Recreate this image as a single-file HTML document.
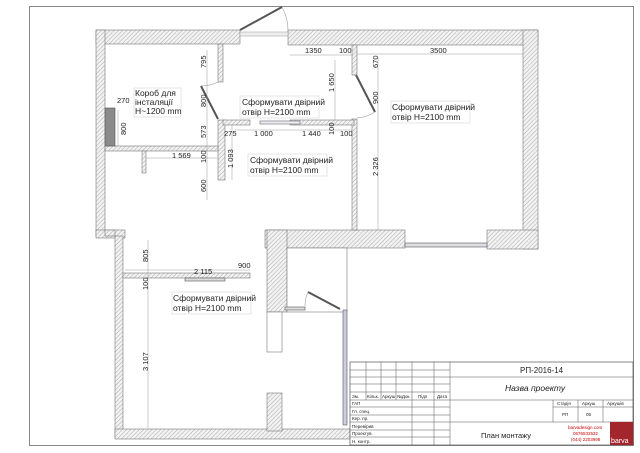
<!DOCTYPE html>
<html><head><meta charset="utf-8"><style>
html,body{margin:0;padding:0;background:#fff}
svg{display:block}
text{font-family:"Liberation Sans",sans-serif;fill:#222}
</style></head><body>
<svg width="640" height="453" viewBox="0 0 640 453" xmlns="http://www.w3.org/2000/svg">
<defs>
<pattern id="h" width="3" height="3" patternUnits="userSpaceOnUse" patternTransform="rotate(45)">
<rect width="3" height="3" fill="#f2f2f2"/><line x1="0" y1="0" x2="0" y2="3" stroke="#9a9a9a" stroke-width="0.8"/>
</pattern>
</defs>
<!-- page border -->
<rect x="29.5" y="6.5" width="604" height="439" fill="none" stroke="#888" stroke-width="1"/>
<g fill="url(#h)" stroke="#777" stroke-width="0.6">
<!-- top wall -->
<rect x="96" y="30" width="144" height="14"/>
<rect x="288" y="30" width="250" height="15"/>
<!-- left wall upper -->
<rect x="96" y="30" width="9" height="206"/>
<rect x="96" y="230" width="29" height="8"/>
<!-- left wall lower -->
<rect x="115" y="236" width="8" height="202"/>
<!-- bottom wall -->
<rect x="115" y="429" width="235" height="10"/>
<!-- right wall -->
<rect x="523" y="30" width="15" height="219"/>
<!-- bottom of right room -->
<rect x="265" y="230" width="140" height="18"/>
<rect x="487" y="230" width="51" height="19"/>
<!-- middle block -->
<rect x="267" y="230" width="20" height="82"/>
<rect x="267" y="393" width="15" height="38"/>
<!-- partition left/middle -->
<rect x="218" y="44" width="5" height="38"/>
<rect x="218" y="120" width="7" height="60"/>
<!-- partition middle/right -->
<rect x="352" y="45" width="5" height="30"/>
<rect x="352" y="119" width="5" height="111"/>
<!-- horizontal mid -->
<rect x="223" y="120" width="27" height="5"/>
<rect x="290" y="120" width="64" height="5"/>
<!-- left room horizontals -->
<rect x="105" y="146" width="113" height="5"/>
<rect x="142" y="151" width="4" height="22"/>
<rect x="123" y="273" width="127" height="5"/>
<rect x="105" y="230" width="10" height="6"/>
</g>
<!-- inner fill of middle block -->
<rect x="287" y="248" width="60" height="64" fill="#fff" stroke="#777" stroke-width="0.6"/>
<rect x="267" y="312" width="15" height="40" fill="#fff" stroke="#777" stroke-width="0.6"/>
<!-- box gray -->
<rect x="105" y="108" width="10" height="38" fill="#8a8a8a" stroke="#555" stroke-width="0.6"/>
<!-- windows -->
<rect x="405" y="243" width="82" height="4" fill="#ddd" stroke="#556" stroke-width="0.6"/>
<rect x="343" y="310" width="4" height="115" fill="#ccd" stroke="#556" stroke-width="0.6"/>
<rect x="240" y="32" width="48" height="4" fill="#eee" stroke="#999" stroke-width="0.5"/>
<rect x="260" y="121" width="40" height="3" fill="#eee" stroke="#667" stroke-width="0.6"/>
<rect x="185" y="278" width="40" height="3" fill="#ddd" stroke="#555" stroke-width="0.6"/>
<rect x="285" y="307" width="20" height="3" fill="#ddd" stroke="#555" stroke-width="0.6"/>
<!-- doors -->
<g stroke="#555" stroke-width="2">
<line x1="240" y1="30" x2="282" y2="7"/>
<line x1="201" y1="86" x2="218" y2="119"/>
<line x1="356" y1="75" x2="375" y2="112"/>
<line x1="308" y1="292" x2="340" y2="309"/>
</g>
<g stroke="#888" stroke-width="0.5" fill="none">
<path d="M282 7 A48 48 0 0 1 288 32"/>
<path d="M201 86 A38 38 0 0 0 218 82"/>
<path d="M375 112 A38 38 0 0 1 357 118"/>
<path d="M308 292 A32 32 0 0 0 305 306"/>
</g>
<!-- dimension lines -->
<g stroke="#999" stroke-width="0.5" fill="none">
<line x1="290" y1="55" x2="352" y2="55"/>
<line x1="357" y1="54" x2="523" y2="54"/>
<line x1="207" y1="50" x2="207" y2="200"/>
<line x1="235" y1="130" x2="352" y2="130"/>
<line x1="232" y1="125" x2="232" y2="180"/>
<line x1="335" y1="60" x2="335" y2="120"/>
<line x1="378" y1="57" x2="378" y2="230"/>
<line x1="118" y1="110" x2="118" y2="146"/>
<line x1="146" y1="158" x2="218" y2="158"/>
<line x1="125" y1="270" x2="250" y2="270"/>
<line x1="148" y1="240" x2="148" y2="428"/>
</g>
<g font-size="7.5">
<text x="305" y="53">1350</text><text x="339" y="53">100</text>
<text x="430" y="53">3500</text>
<text x="254" y="136">1 000</text><text x="302" y="136">1 440</text><text x="340" y="136">100</text>
<text x="224" y="136">275</text>
<text x="172" y="158">1 569</text>
<text x="194" y="274">2 115</text><text x="238" y="268">900</text>
<text x="117" y="103">270</text>
</g>
<g font-size="7.5">
<text transform="translate(206,68) rotate(-90)">795</text>
<text transform="translate(206,107) rotate(-90)">800</text>
<text transform="translate(206,138) rotate(-90)">573</text>
<text transform="translate(206,163) rotate(-90)">100</text>
<text transform="translate(206,192) rotate(-90)">600</text>
<text transform="translate(233,168) rotate(-90)">1 093</text>
<text transform="translate(334,92) rotate(-90)">1 650</text>
<text transform="translate(334,135) rotate(-90)">100</text>
<text transform="translate(378,68) rotate(-90)">670</text>
<text transform="translate(378,104) rotate(-90)">900</text>
<text transform="translate(378,176) rotate(-90)">2 326</text>
<text transform="translate(126,135) rotate(-90)">800</text>
<text transform="translate(148,262) rotate(-90)">805</text>
<text transform="translate(148,290) rotate(-90)">100</text>
<text transform="translate(148,371) rotate(-90)">3 107</text>
</g>
<!-- notes -->
<g font-size="8.5">
<rect x="134" y="88" width="47" height="29" fill="#fff" stroke="#ccc" stroke-width="0.5"/>
<text x="135" y="96">Короб для</text><text x="135" y="105">інсталяції</text><text x="135" y="114">Н~1200 mm</text>
<rect x="240" y="96" width="79" height="22" fill="#fff" stroke="#ccc" stroke-width="0.5"/>
<text x="242" y="105">Сформувати двірний</text><text x="242" y="115">отвір Н=2100 mm</text>
<rect x="248" y="154" width="79" height="22" fill="#fff" stroke="#ccc" stroke-width="0.5"/>
<text x="250" y="163">Сформувати двірний</text><text x="250" y="173">отвір Н=2100 mm</text>
<rect x="391" y="101" width="79" height="22" fill="#fff" stroke="#ccc" stroke-width="0.5"/>
<text x="392" y="110">Сформувати двірний</text><text x="392" y="120">отвір Н=2100 mm</text>
<rect x="172" y="292" width="79" height="22" fill="#fff" stroke="#ccc" stroke-width="0.5"/>
<text x="173" y="301">Сформувати двірний</text><text x="173" y="311">отвір Н=2100 mm</text>
</g>
<!-- title block -->
<rect x="350" y="362" width="283" height="83" fill="#fff" stroke="#555" stroke-width="0.7"/>
<g stroke="#555" stroke-width="0.5">
<line x1="450" y1="362" x2="450" y2="445"/>
<line x1="350" y1="370" x2="450" y2="370"/><line x1="350" y1="377" x2="633" y2="377"/>
<line x1="350" y1="384" x2="450" y2="384"/><line x1="350" y1="392" x2="450" y2="392"/>
<line x1="350" y1="400" x2="633" y2="400"/><line x1="350" y1="407" x2="450" y2="407"/>
<line x1="350" y1="415" x2="450" y2="415"/><line x1="350" y1="422" x2="633" y2="422"/>
<line x1="350" y1="430" x2="450" y2="430"/><line x1="350" y1="437" x2="450" y2="437"/>
<line x1="366" y1="362" x2="366" y2="400"/><line x1="381" y1="362" x2="381" y2="400"/>
<line x1="396" y1="362" x2="396" y2="400"/><line x1="412" y1="362" x2="412" y2="445"/>
<line x1="434" y1="362" x2="434" y2="445"/>
<line x1="553" y1="400" x2="553" y2="422"/><line x1="578" y1="400" x2="578" y2="422"/>
<line x1="603" y1="400" x2="603" y2="422"/><line x1="553" y1="407" x2="633" y2="407"/>
</g>
<rect x="610" y="422" width="23" height="23" fill="#a3262d"/>
<text x="611" y="443" font-size="7" style="fill:#fff">barva</text>
<text x="520" y="373" font-size="8">РП-2016-14</text>
<text x="505" y="391" font-size="8.5" font-style="italic">Назва проекту</text>
<text x="481" y="438" font-size="7.5">План монтажу</text>
<g font-size="4.5">
<text x="352" y="398">Зм.</text><text x="367" y="398">Кільк.</text><text x="382" y="398">Аркуш</text><text x="397" y="398">№Док.</text><text x="418" y="398">Підп</text><text x="437" y="398">Дата</text>
<text x="352" y="405">ГАП</text><text x="352" y="413">Гл. спец.</text><text x="352" y="420">Кер. пр.</text><text x="352" y="428">Перевірив</text><text x="352" y="435">Проектув.</text><text x="352" y="443">Н. контр.</text>
<text x="557" y="405">Стадія</text><text x="582" y="405">Аркуш</text><text x="607" y="405">Аркушів</text>
<text x="562" y="416">РП</text><text x="586" y="416">05</text>
</g>
<g font-size="4.5" style="fill:#c00">
<text x="568" y="429" style="fill:#c00">barvadesign.com</text>
<text x="573" y="435" style="fill:#c00">0676532532</text>
<text x="571" y="441" style="fill:#c00">(044) 2203998</text>
</g>
</svg>
</body></html>
